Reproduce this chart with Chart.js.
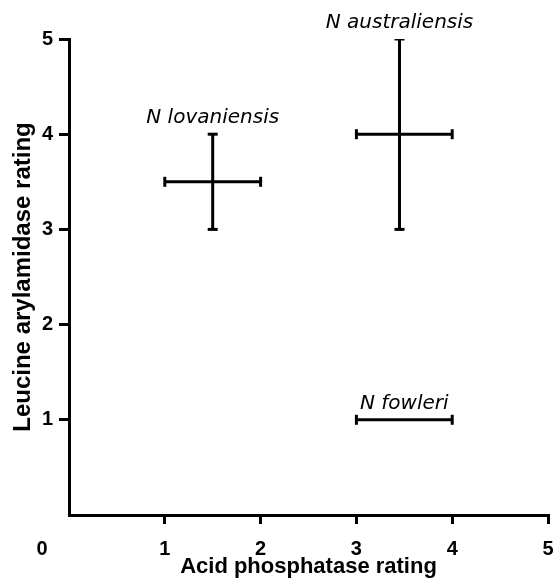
<!DOCTYPE html>
<html>
<head>
<meta charset="utf-8">
<script src="https://cdn.jsdelivr.net/npm/chart.js@4/dist/chart.umd.min.js"></script>
<style>
html,body{margin:0;padding:0;background:#fff;}
#c{display:block;}
</style>
</head>
<body>
<canvas id="c" width="556" height="582"></canvas>
<script>
// ---- data ----
const species   = ['N lovaniensis', 'N australiensis', 'N fowleri'];
const acidMean  = [1.5, 3.45, 3.5];
const acidLow   = [1, 3, 3];
const acidHigh  = [2, 4, 4];
const leuMean   = [3.5, 4, 1];
const leuLow    = [3, 3, 1];
const leuHigh   = [4, 5, 1];
const tickValues = [0, 1, 2, 3, 4, 5];
const xTitle = 'Acid phosphatase rating';
const yTitle = 'Leucine arylamidase rating';

// ---- build error-bar datasets ----
const datasets = [];
species.forEach((name, i) => {
  if (acidHigh[i] > acidLow[i]) {
    datasets.push({
      label: name + ' (acid phosphatase)',
      data: [{x: acidLow[i], y: leuMean[i]}, {x: acidHigh[i], y: leuMean[i]}],
      pointStyle: 'line', rotation: 90
    });
  }
  if (leuHigh[i] > leuLow[i]) {
    datasets.push({
      label: name + ' (leucine arylamidase)',
      data: [{x: acidMean[i], y: leuLow[i]}, {x: acidMean[i], y: leuHigh[i]}],
      pointStyle: 'line', rotation: 0
    });
  }
});
datasets.forEach(d => Object.assign(d, {
  showLine: true, borderColor: '#000', borderWidth: 3,
  pointRadius: 5, pointBorderWidth: 3, pointBorderColor: '#000',
  pointBackgroundColor: '#000', pointHoverRadius: 5
}));

const black = '#000';
const tickFont = {family: '"Liberation Sans", Arial, sans-serif', size: 20, weight: 'bold'};

const labelsPlugin = {
  id: 'annot',
  afterDraw(chart) {
    const {ctx, scales: {x, y}} = chart;
    ctx.save();
    ctx.fillStyle = black;
    ctx.font = 'italic 20px "DejaVu Sans", sans-serif';
    ctx.textAlign = 'center';
    ctx.textBaseline = 'alphabetic';
    species.forEach((name, i) => {
      ctx.fillText(name, x.getPixelForValue(acidMean[i]), y.getPixelForValue(leuHigh[i]) - 11);
    });
    ctx.font = 'bold 20px "Liberation Sans", Arial, sans-serif';
    ctx.textBaseline = 'middle';
    ctx.fillText('0', x.getPixelForValue(0) - 27, y.getPixelForValue(0) + 34);
    ctx.restore();
  }
};

new Chart(document.getElementById('c'), {
  type: 'scatter',
  data: {datasets},
  options: {
    responsive: false,
    devicePixelRatio: 1,
    animation: false,
    layout: {padding: {top: 39, right: 8, left: 0, bottom: 0}},
    plugins: {legend: {display: false}, tooltip: {enabled: false}},
    scales: {
      x: {
        type: 'linear', min: 0, max: 5,
        afterBuildTicks: s => { s.ticks = tickValues.map(v => ({value: v})); },
        afterFit: s => { s.height = 67; s.paddingLeft = 0; s.paddingRight = 0; },
        ticks: {
          callback: v => (v === 0 ? '' : String(v)),
          font: tickFont, color: black, padding: 13, maxRotation: 0
        },
        grid: {
          drawOnChartArea: false, tickLength: 9, lineWidth: 3,
          color: c => (c.tick && c.tick.value === 0 ? 'rgba(0,0,0,0)' : black)
        },
        border: {display: true, color: black, width: 3},
        title: {
          display: true, text: xTitle, color: black,
          font: {family: '"Liberation Sans", Arial, sans-serif', size: 22, weight: 'bold'},
          padding: {top: 0, bottom: 2}
        }
      },
      y: {
        type: 'linear', min: 0, max: 5,
        afterBuildTicks: s => { s.ticks = tickValues.map(v => ({value: v})); },
        afterFit: s => { s.width = 69; s.paddingTop = 0; s.paddingBottom = 0; },
        ticks: {
          callback: v => (v === 0 ? '' : String(v)),
          font: tickFont, color: black, padding: 6
        },
        grid: {
          drawOnChartArea: false, tickLength: 10, lineWidth: 3,
          color: c => (c.tick && c.tick.value === 0 ? 'rgba(0,0,0,0)' : black)
        },
        border: {display: true, color: black, width: 3},
        title: {
          display: true, text: yTitle, color: black,
          font: {family: '"Liberation Sans", Arial, sans-serif', size: 24, weight: 'bold'},
          padding: {top: 9, bottom: 0}
        }
      }
    }
  },
  plugins: [labelsPlugin]
});
</script>
</body>
</html>
